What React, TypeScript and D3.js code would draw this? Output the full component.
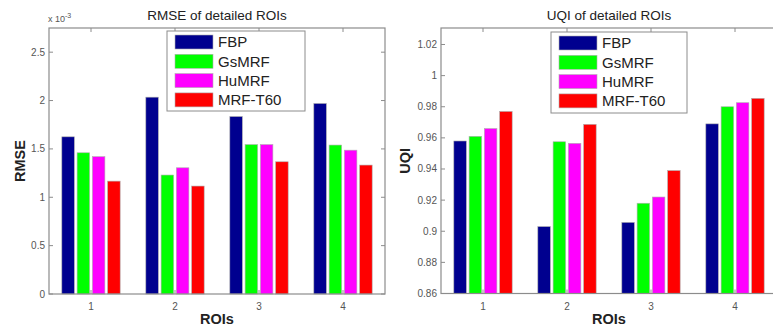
import React from "react";
import * as d3 from "d3";

// ROI indices shared by both panels
const rois = [1, 2, 3, 4];
const methods = ["FBP", "GsMRF", "HuMRF", "MRF-T60"];
const methodColors = ["#00008f", "#00ff00", "#ff00ff", "#ff0000"];

// RMSE values (in units of 1e-3), one array per method across ROIs 1..4
const rmseFBP = [1.625, 2.035, 1.835, 1.97];
const rmseGsMRF = [1.46, 1.23, 1.545, 1.54];
const rmseHuMRF = [1.42, 1.305, 1.545, 1.487];
const rmseMRFT60 = [1.167, 1.116, 1.367, 1.333];

// UQI values, one array per method across ROIs 1..4
const uqiFBP = [0.958, 0.903, 0.9057, 0.969];
const uqiGsMRF = [0.961, 0.9575, 0.918, 0.98];
const uqiHuMRF = [0.966, 0.9565, 0.922, 0.9826];
const uqiMRFT60 = [0.977, 0.9687, 0.939, 0.9854];

const rmseTicks = [0, 0.5, 1, 1.5, 2, 2.5];
const rmseTickLabels = ["0", "0.5", "1", "1.5", "2", "2.5"];
const uqiTicks = [0.86, 0.88, 0.9, 0.92, 0.94, 0.96, 0.98, 1, 1.02];
const uqiTickLabels = ["0.86", "0.88", "0.9", "0.92", "0.94", "0.96", "0.98", "1", "1.02"];

const FONT = "'Liberation Sans', Arial, sans-serif";
const AXIS = "#8c8c8c";
const TICKTXT = "#555";
const LABELTXT = "#222";

type PanelProps = {
  left: number;
  right: number;
  top: number;
  bottom: number;
  domain: [number, number];
  ticks: number[];
  tickLabels: string[];
  series: number[][];
  title: string;
  ylabel: string;
  ylabelOffset: number;
  legend: { x: number; y: number; w: number; h: number };
  exponent?: boolean;
};

function Panel(p: PanelProps) {
  const x = d3.scaleLinear().domain([0.5, 4.5]).range([p.left, p.right]);
  const y = d3.scaleLinear().domain(p.domain).range([p.bottom, p.top]);
  const nSeries = p.series.length;
  const groupWidth = Math.min(0.8, nSeries / (nSeries + 1.5));
  const pitch = groupWidth / nSeries;
  const barW = pitch * 0.82;
  const tl = 4;
  const cx = (p.left + p.right) / 2;
  const cy = (p.top + p.bottom) / 2;
  const rowH = 19.3;

  return (
    <g fontFamily={FONT}>
      {/* bars */}
      {p.series.map((vals, si) =>
        vals.map((v, gi) => {
          const center = rois[gi] + (si - (nSeries - 1) / 2) * pitch;
          const x0 = x(center - barW / 2);
          const x1 = x(center + barW / 2);
          return (
            <rect
              key={`${si}-${gi}`}
              x={x0}
              y={y(v)}
              width={x1 - x0}
              height={y(p.domain[0]) - y(v)}
              fill={methodColors[si]}
              stroke="#b0b0b0"
              strokeWidth={0.6}
            />
          );
        })
      )}
      {/* axes box */}
      <rect
        x={p.left}
        y={p.top}
        width={p.right - p.left}
        height={p.bottom - p.top}
        fill="none"
        stroke={AXIS}
        strokeWidth={1.2}
      />
      {/* y ticks on both sides */}
      {p.ticks.map((t, i) => (
        <g key={`yt${i}`}>
          <line x1={p.left} x2={p.left + tl} y1={y(t)} y2={y(t)} stroke={AXIS} />
          <line x1={p.right} x2={p.right - tl} y1={y(t)} y2={y(t)} stroke={AXIS} />
          <text
            x={p.left - 4}
            y={y(t)}
            dy="0.35em"
            textAnchor="end"
            fontSize={10}
            fill={TICKTXT}
          >
            {p.tickLabels[i]}
          </text>
        </g>
      ))}
      {/* x ticks on both sides */}
      {rois.map((r) => (
        <g key={`xt${r}`}>
          <line x1={x(r)} x2={x(r)} y1={p.bottom} y2={p.bottom - tl} stroke={AXIS} />
          <line x1={x(r)} x2={x(r)} y1={p.top} y2={p.top + tl} stroke={AXIS} />
          <text x={x(r)} y={p.bottom + 16} textAnchor="middle" fontSize={10} fill={TICKTXT}>
            {r}
          </text>
        </g>
      ))}
      {p.exponent && (
        <text x={p.left - 1} y={p.top - 6} fontSize={9} fill={TICKTXT}>
          x 10
          <tspan dy={-4} fontSize={7}>
            -3
          </tspan>
        </text>
      )}
      {/* title and labels */}
      <text x={cx} y={20} textAnchor="middle" fontSize={13.5} fill={LABELTXT}>
        {p.title}
      </text>
      <text x={cx} y={p.bottom + 30} textAnchor="middle" fontSize={14.5} fontWeight="bold" fill={LABELTXT}>
        ROIs
      </text>
      <text
        transform={`translate(${p.left - p.ylabelOffset},${cy}) rotate(-90)`}
        textAnchor="middle"
        fontSize={14.5}
        fontWeight="bold"
        fill={LABELTXT}
      >
        {p.ylabel}
      </text>
      {/* legend */}
      <g>
        <rect
          x={p.legend.x}
          y={p.legend.y}
          width={p.legend.w}
          height={p.legend.h}
          fill="#fff"
          stroke={AXIS}
          strokeWidth={1}
        />
        {methods.map((m, i) => {
          const rowY = p.legend.y + 11 + i * rowH;
          return (
            <g key={m}>
              <rect
                x={p.legend.x + 8}
                y={rowY - 7}
                width={38}
                height={14}
                fill={methodColors[i]}
                stroke="#b0b0b0"
                strokeWidth={0.6}
              />
              <text x={p.legend.x + 51} y={rowY} dy="0.36em" fontSize={15} fill={LABELTXT}>
                {m}
              </text>
            </g>
          );
        })}
      </g>
    </g>
  );
}

export default function App() {
  return (
    <svg
      width={773}
      height={333}
      style={{ position: "absolute", left: 0, top: 0, background: "#fff" }}
    >
      <rect width={773} height={333} fill="#fff" />
      <Panel
        left={49}
        right={385}
        top={28}
        bottom={294}
        domain={[0, 2.75]}
        ticks={rmseTicks}
        tickLabels={rmseTickLabels}
        series={[rmseFBP, rmseGsMRF, rmseHuMRF, rmseMRFT60]}
        title="RMSE of detailed ROIs"
        ylabel="RMSE"
        ylabelOffset={24}
        legend={{ x: 167, y: 31, w: 138, h: 80 }}
        exponent
      />
      <Panel
        left={441}
        right={777}
        top={28}
        bottom={293.5}
        domain={[0.86, 1.0306]}
        ticks={uqiTicks}
        tickLabels={uqiTickLabels}
        series={[uqiFBP, uqiGsMRF, uqiHuMRF, uqiMRFT60]}
        title="UQI of detailed ROIs"
        ylabel="UQI"
        ylabelOffset={31}
        legend={{ x: 551, y: 32, w: 136, h: 81 }}
      />
    </svg>
  );
}
